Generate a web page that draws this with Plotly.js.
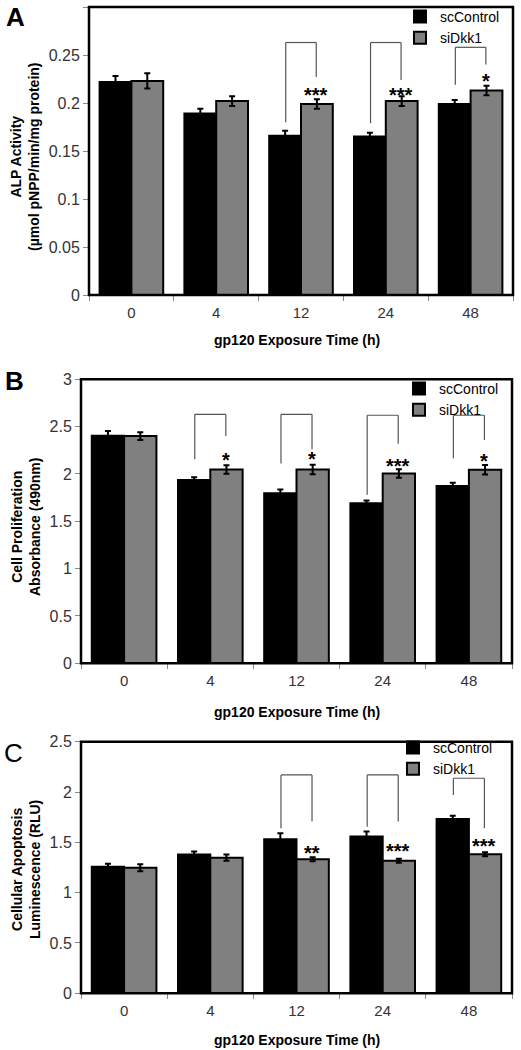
<!DOCTYPE html>
<html><head><meta charset="utf-8">
<script src="https://cdn.plot.ly/plotly-3.0.1.min.js"></script>
<style>html,body{margin:0;padding:0;background:#fff}#chart{width:521px;height:1050px}</style>
</head><body><div id="chart"></div>
<script>
// ---------- DATA ----------
const categories = ["0", "4", "12", "24", "48"];
const seriesNames = ["scControl", "siDkk1"];
const xTitle = "gp120 Exposure Time (h)";

// Panel A: ALP activity
const alpSc = [0.222, 0.189, 0.166, 0.165, 0.199];
const alpScErr = [0.006, 0.005, 0.005, 0.004, 0.004];
const alpSi = [0.223, 0.202, 0.199, 0.202, 0.213];
const alpSiErr = [0.008, 0.005, 0.005, 0.005, 0.005];
const alpBracketCats = ["12", "24", "48"];
const alpBracketTop = [0.263, 0.263, 0.258];
const alpBracketLeft = [0.180, 0.179, 0.219];
const alpBracketRight = [0.227, 0.224, 0.240];
const alpStars = ["***", "***", "*"];
const alpStarY = [0.212, 0.213, 0.227];

// Panel B: cell proliferation
const prolSc = [2.405, 1.935, 1.796, 1.690, 1.873];
const prolScErr = [0.05, 0.03, 0.04, 0.03, 0.035];
const prolSi = [2.400, 2.048, 2.048, 2.005, 2.045];
const prolSiErr = [0.04, 0.045, 0.05, 0.045, 0.05];
const prolBracketCats = ["4", "12", "24", "48"];
const prolBracketTop = [2.63, 2.63, 2.62, 2.62];
const prolBracketLeft = [2.155, 2.11, 1.78, 2.165];
const prolBracketRight = [2.40, 2.26, 2.32, 2.36];
const prolStars = ["*", "*", "***", "*"];
const prolStarY = [2.19, 2.20, 2.13, 2.18];

// Panel C: apoptosis
const apoSc = [1.258, 1.380, 1.530, 1.557, 1.733];
const apoScErr = [0.03, 0.03, 0.06, 0.05, 0.03];
const apoSi = [1.248, 1.348, 1.332, 1.316, 1.382];
const apoSiErr = [0.035, 0.03, 0.02, 0.02, 0.02];
const apoBracketCats = ["12", "24", "48"];
const apoBracketTop = [2.17, 2.17, 2.137];
const apoBracketLeft = [1.64, 1.656, 1.971];
const apoBracketRight = [1.706, 1.706, 1.64];
const apoStars = ["**", "***", "***"];
const apoStarY = [1.43, 1.45, 1.507];

const yTitles = [
  "ALP Activity<br>(µmol pNPP/min/mg protein)",
  "Cell Proliferation<br>Absorbance (490nm)",
  "Cellular Apoptosis<br>Luminescence (RLU)"
];
const panelLetters = ["A", "B", "C"];

// ---------- STYLE / LAYOUT ----------
const W = 521, H = 1050;
const FONT = "Liberation Sans, Arial, sans-serif";
const px = v => v / W;
const py = v => 1 - v / H;

const panels = [
  {sc: alpSc, scE: alpScErr, si: alpSi, siE: alpSiErr, bc: alpBracketCats, bt: alpBracketTop, bl: alpBracketLeft, br: alpBracketRight, st: alpStars, sy: alpStarY,
   range: [0, 0.3], dtick: 0.05, xd: [89, 513], yd: [7, 295], titleY: 340, yTitleX: 25, yTitleY: 157,
   letter: {x: 15, y: 17, bold: true}, legend: {x: 400, y: 1}},
  {sc: prolSc, scE: prolScErr, si: prolSi, siE: prolSiErr, bc: prolBracketCats, bt: prolBracketTop, bl: prolBracketLeft, br: prolBracketRight, st: prolStars, sy: prolStarY,
   range: [0, 3], dtick: 0.5, xd: [81, 512], yd: [379.3, 663.3], titleY: 712, yTitleX: 26, yTitleY: 527,
   letter: {x: 14, y: 381, bold: true}, legend: {x: 399, y: 373}},
  {sc: apoSc, scE: apoScErr, si: apoSi, siE: apoSiErr, bc: apoBracketCats, bt: apoBracketTop, bl: apoBracketLeft, br: apoBracketRight, st: apoStars, sy: apoStarY,
   range: [0, 2.5], dtick: 0.5, xd: [81, 512], yd: [741.7, 993.3], titleY: 1040, yTitleX: 26, yTitleY: 870,
   letter: {x: 13, y: 753, bold: false}, legend: {x: 393, y: 732}}
];

const traces = [];
const shapes = [];
const annotations = [];
const layout = {
  width: W, height: H, autosize: false,
  margin: {l: 0, r: 0, t: 0, b: 0, pad: 0},
  paper_bgcolor: "#fff", plot_bgcolor: "#fff",
  barmode: "group", bargap: 0.25, bargroupgap: 0,
  font: {family: FONT, color: "#000"},
  showlegend: true
};
const OFF = 0.18;

panels.forEach((p, i) => {
  const n = i === 0 ? "" : String(i + 1);
  const xa = "x" + n, ya = "y" + n;
  const lg = "legend" + n;
  traces.push({
    type: "bar", name: seriesNames[0], x: categories, y: p.sc, xaxis: xa, yaxis: ya, legend: lg,
    marker: {color: "#000000", line: {color: "#000", width: 2}},
    error_y: {type: "data", array: p.scE, visible: true, color: "#000", thickness: 2, width: 3},
    hoverinfo: "skip"
  });
  traces.push({
    type: "bar", name: seriesNames[1], x: categories, y: p.si, xaxis: xa, yaxis: ya, legend: lg,
    marker: {color: "#808080", line: {color: "#000", width: 2}},
    error_y: {type: "data", array: p.siE, visible: true, color: "#000", thickness: 2, width: 3},
    hoverinfo: "skip"
  });
  layout["xaxis" + n] = {
    domain: [px(p.xd[0]), px(p.xd[1])], anchor: ya, type: "category",
    categoryorder: "array", categoryarray: categories,
    showline: true, linecolor: "#888", linewidth: 1, ticks: "outside", ticklen: 5, tickcolor: "#888",
    tickson: "boundaries", showgrid: false, zeroline: false, fixedrange: true,
    tickfont: {family: FONT, size: 15, color: "#333"}, ticklabelstandoff: 4
  };
  layout["yaxis" + n] = {
    domain: [py(p.yd[1]), py(p.yd[0])], anchor: xa, range: p.range, dtick: p.dtick, tick0: 0,
    showline: true, linecolor: "#888", linewidth: 1, ticks: "outside", ticklen: 5, tickcolor: "#888",
    showgrid: false, zeroline: false, fixedrange: true,
    tickfont: {family: FONT, size: 16, color: "#333"}
  };
  layout[lg] = {
    x: px(p.legend.x), y: py(p.legend.y), xanchor: "left", yanchor: "top",
    bgcolor: "rgba(0,0,0,0)", borderwidth: 0, tracegroupgap: 0,
    font: {family: FONT, size: 14, color: "#000"}, itemclick: false
  };
  // frame
  shapes.push({type: "rect", xref: xa + " domain", yref: ya + " domain", x0: 0, x1: 1, y0: 0, y1: 1,
    line: {color: "#000", width: 2.5}, layer: "above"});
  // brackets & stars
  p.bc.forEach((c, k) => {
    const ci = categories.indexOf(c);
    const xl = ci - OFF, xr = ci + OFF;
    const ln = {color: "#555", width: 1.2};
    shapes.push({type: "line", xref: xa, yref: ya, x0: xl, x1: xl, y0: p.bl[k], y1: p.bt[k], line: ln});
    shapes.push({type: "line", xref: xa, yref: ya, x0: xl, x1: xr, y0: p.bt[k], y1: p.bt[k], line: ln});
    shapes.push({type: "line", xref: xa, yref: ya, x0: xr, x1: xr, y0: p.br[k], y1: p.bt[k], line: ln});
    annotations.push({xref: xa, yref: ya, x: xr, y: p.sy[k], text: "<b>" + p.st[k] + "</b>", showarrow: false,
      xanchor: "center", yanchor: "middle", yshift: -4, font: {family: FONT, size: 20, color: "#000"}});
  });
  // x title
  annotations.push({xref: "paper", yref: "paper", x: px(297), y: py(p.titleY), text: "<b>" + xTitle + "</b>",
    showarrow: false, xanchor: "center", yanchor: "middle", font: {family: FONT, size: 14, color: "#000"}});
  // y title
  annotations.push({xref: "paper", yref: "paper", x: px(p.yTitleX), y: py(p.yTitleY), text: "<b>" + yTitles[i] + "</b>",
    showarrow: false, xanchor: "center", yanchor: "middle", textangle: -90,
    font: {family: FONT, size: 14, color: "#000"}});
  // panel letter
  annotations.push({xref: "paper", yref: "paper", x: px(p.letter.x), y: py(p.letter.y),
    text: p.letter.bold ? "<b>" + panelLetters[i] + "</b>" : panelLetters[i],
    showarrow: false, xanchor: "center", yanchor: "middle", font: {family: FONT, size: 26, color: "#000"}});
});

layout.shapes = shapes;
layout.annotations = annotations;

Plotly.newPlot("chart", traces, layout, {staticPlot: true, displayModeBar: false});
</script>
</body></html>
